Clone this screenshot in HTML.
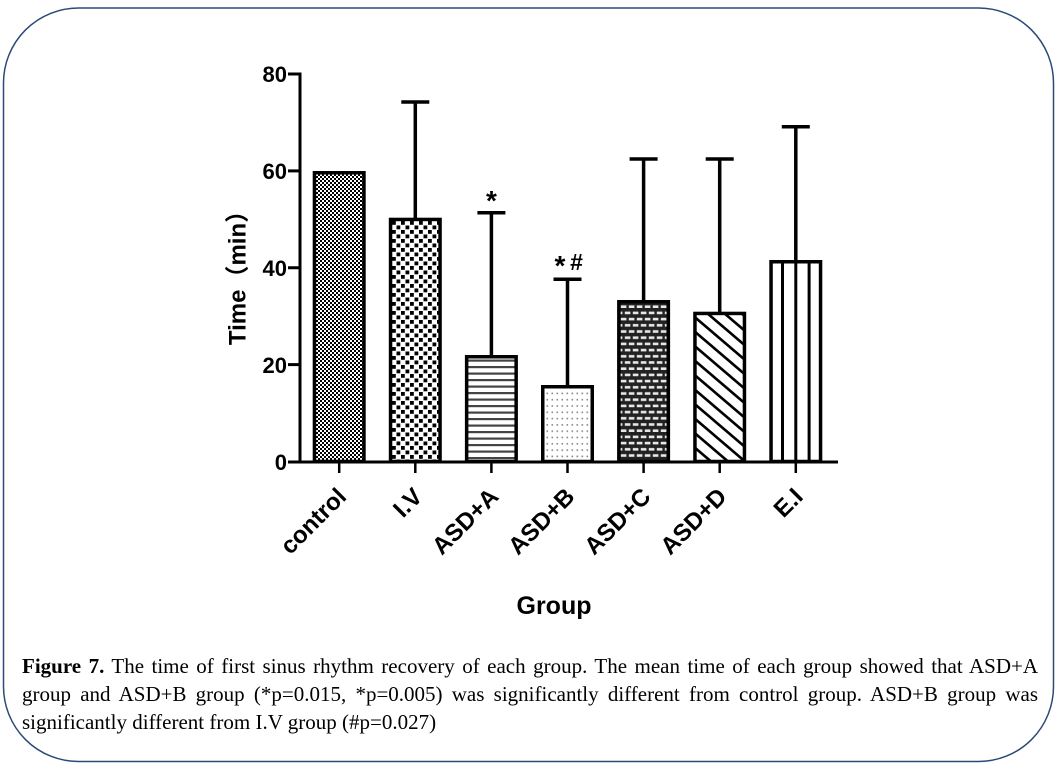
<!DOCTYPE html>
<html>
<head>
<meta charset="utf-8">
<style>
html,body{margin:0;padding:0;background:#fff;}
body{width:1060px;height:778px;overflow:hidden;position:relative;}
svg{position:absolute;left:0;top:0;}
.cap{position:absolute;left:22px;width:1016px;font-family:"Liberation Serif","Times New Roman",serif;font-size:21px;line-height:28px;color:#000;}
.j{text-align:justify;text-align-last:justify;}
</style>
</head>
<body>
<svg width="1060" height="778" viewBox="0 0 1060 778" xmlns="http://www.w3.org/2000/svg">
<defs>
  <pattern id="p0" width="4" height="4" patternUnits="userSpaceOnUse">
    <rect width="4" height="4" fill="#fff"/>
    <rect x="0" y="0" width="2" height="2" fill="#000"/>
    <rect x="2" y="2" width="2" height="2" fill="#000"/>
  </pattern>
  <pattern id="p1" width="9" height="9" patternUnits="userSpaceOnUse">
    <rect width="9" height="9" fill="#fff"/>
    <rect x="0.5" y="0.5" width="3.8" height="3.8" fill="#000"/>
    <rect x="5" y="5" width="3.8" height="3.8" fill="#000"/>
  </pattern>
  <pattern id="p2" width="10" height="6.5" patternUnits="userSpaceOnUse">
    <rect width="10" height="6.5" fill="#fff"/>
    <rect x="0" y="2" width="10" height="2.2" fill="#444"/>
  </pattern>
  <pattern id="p3" width="5" height="6.3" patternUnits="userSpaceOnUse">
    <rect width="5" height="6.3" fill="#fff"/>
    <rect x="1.5" y="2" width="1.6" height="1.6" fill="#888"/>
  </pattern>
  <pattern id="p4" width="8" height="12.4" patternUnits="userSpaceOnUse">
    <rect width="8" height="12.4" fill="#222"/>
    <rect x="0.8" y="1.6" width="5.6" height="2.6" fill="#e8e8e8"/>
    <rect x="4.8" y="7.8" width="5.6" height="2.6" fill="#e8e8e8"/>
    <rect x="-3.2" y="7.8" width="5.6" height="2.6" fill="#e8e8e8"/>
  </pattern>
  <pattern id="p5" width="17" height="14.5" patternUnits="userSpaceOnUse">
    <rect width="17" height="14.5" fill="#fff"/>
    <line x1="-17" y1="-14.5" x2="34" y2="29" stroke="#000" stroke-width="2.6"/>
    <line x1="0" y1="-14.5" x2="51" y2="29" stroke="#000" stroke-width="2.6"/>
    <line x1="-34" y1="-14.5" x2="17" y2="29" stroke="#000" stroke-width="2.6"/>
  </pattern>
</defs>

<!-- frame -->
<rect x="3.5" y="8" width="1050" height="753.5" rx="75" ry="75" fill="none" stroke="#2c4a78" stroke-width="1.5"/>

<!-- error bars -->
<g stroke="#000" stroke-width="3.5" fill="none">
  <line x1="415.3" y1="102" x2="415.3" y2="220"/>
  <line x1="401.3" y1="102" x2="429.3" y2="102"/>
  <line x1="491.4" y1="212.7" x2="491.4" y2="357"/>
  <line x1="477.4" y1="212.7" x2="505.4" y2="212.7"/>
  <line x1="567.5" y1="279.3" x2="567.5" y2="387"/>
  <line x1="553.5" y1="279.3" x2="581.5" y2="279.3"/>
  <line x1="643.6" y1="159" x2="643.6" y2="302"/>
  <line x1="629.6" y1="159" x2="657.6" y2="159"/>
  <line x1="719.7" y1="159" x2="719.7" y2="314"/>
  <line x1="705.7" y1="159" x2="733.7" y2="159"/>
  <line x1="795.8" y1="126.7" x2="795.8" y2="262"/>
  <line x1="781.8" y1="126.7" x2="809.8" y2="126.7"/>
</g>

<!-- bars -->
<g stroke="#000" stroke-width="3.5">
  <rect x="314.45" y="172.75" width="49.5" height="288.75" fill="url(#p0)"/>
  <rect x="390.55" y="219.45" width="49.5" height="242.05" fill="url(#p1)"/>
  <rect x="466.65" y="356.75" width="49.5" height="104.75" fill="url(#p2)"/>
  <rect x="542.75" y="386.75" width="49.5" height="74.75" fill="url(#p3)"/>
  <rect x="618.85" y="301.75" width="49.5" height="159.75" fill="url(#p4)"/>
  <rect x="694.95" y="313.45" width="49.5" height="148.05" fill="url(#p5)"/>
  <rect x="771.05" y="261.75" width="49.5" height="199.75" fill="#fff"/>
</g>
<g stroke="#000" stroke-width="3">
  <line x1="782.5" y1="262" x2="782.5" y2="461"/>
  <line x1="795.8" y1="262" x2="795.8" y2="461"/>
  <line x1="809.1" y1="262" x2="809.1" y2="461"/>
</g>

<!-- axes -->
<g stroke="#000" stroke-width="3" fill="none">
  <line x1="300" y1="72.5" x2="300" y2="463"/>
  <line x1="288" y1="462" x2="838" y2="462"/>
  <line x1="288" y1="74" x2="300" y2="74"/>
  <line x1="288" y1="170.9" x2="300" y2="170.9"/>
  <line x1="288" y1="267.75" x2="300" y2="267.75"/>
  <line x1="288" y1="364.6" x2="300" y2="364.6"/>
</g>
<g stroke="#000" stroke-width="2.5">
  <line x1="339.2" y1="462" x2="339.2" y2="473"/>
  <line x1="415.3" y1="462" x2="415.3" y2="473"/>
  <line x1="491.4" y1="462" x2="491.4" y2="473"/>
  <line x1="567.5" y1="462" x2="567.5" y2="473"/>
  <line x1="643.6" y1="462" x2="643.6" y2="473"/>
  <line x1="719.7" y1="462" x2="719.7" y2="473"/>
  <line x1="795.8" y1="462" x2="795.8" y2="473"/>
</g>

<!-- tick labels -->
<g font-family="'Liberation Sans', Arial, sans-serif" font-weight="bold" font-size="22" fill="#000" text-anchor="end">
  <text x="287" y="82">80</text>
  <text x="287" y="179">60</text>
  <text x="287" y="276">40</text>
  <text x="287" y="373">20</text>
  <text x="287" y="470">0</text>
</g>

<!-- x labels -->
<g font-family="'Liberation Sans', Arial, sans-serif" font-weight="bold" font-size="24" fill="#000" text-anchor="end">
  <text transform="translate(347.7,498) rotate(-45)">control</text>
  <text transform="translate(423.8,498) rotate(-45)">I.V</text>
  <text transform="translate(499.9,498) rotate(-45)">ASD+A</text>
  <text transform="translate(576,498) rotate(-45)">ASD+B</text>
  <text transform="translate(652.1,498) rotate(-45)">ASD+C</text>
  <text transform="translate(728.2,498) rotate(-45)">ASD+D</text>
  <text transform="translate(804.3,498) rotate(-45)">E.I</text>
</g>

<!-- axis titles -->
<text transform="translate(245.5,272) rotate(-90)" text-anchor="middle" font-family="'Liberation Sans', 'Noto Sans CJK SC', Arial, sans-serif" font-weight="bold" font-size="24" fill="#000">Time（min）</text>
<text x="554" y="614" text-anchor="middle" font-family="'Liberation Sans', Arial, sans-serif" font-weight="bold" font-size="25" fill="#000">Group</text>

<!-- significance marks -->
<g font-family="'Liberation Sans', Arial, sans-serif" font-weight="bold" fill="#000" text-anchor="middle">
  <text x="491.4" y="210" font-size="28">*</text>
  <text x="560" y="275" font-size="28">*</text>
  <text x="576.5" y="270" font-size="23">#</text>
</g>
</svg>

<div class="cap j" style="top:652px;"><b>Figure 7.</b> The time of first sinus rhythm recovery of each group. The mean time of each group showed that ASD+A</div>
<div class="cap j" style="top:680px;">group and ASD+B group (*p=0.015, *p=0.005) was significantly different from control group. ASD+B group was</div>
<div class="cap" style="top:708px;">significantly different from I.V group (#p=0.027)</div>
</body>
</html>
